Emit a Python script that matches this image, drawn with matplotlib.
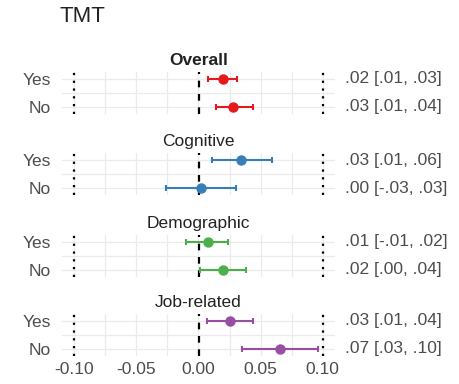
import numpy as np
import matplotlib.pyplot as plt
from matplotlib.transforms import blended_transform_factory

plt.rcParams['font.family'] = ['Liberation Sans', 'DejaVu Sans']

# ------------------------------------------------------------
# Data
# ------------------------------------------------------------
panels = ['Overall', 'Cognitive', 'Demographic', 'Job-related']
rows = ['Yes', 'No']
est = [[0.020, 0.028], [0.034, 0.002], [0.0075, 0.020], [0.025, 0.066]]
lo = [[0.008, 0.014], [0.0105, -0.026], [-0.010, 0.001], [0.007, 0.035]]
hi = [[0.031, 0.044], [0.059, 0.0305], [0.024, 0.038], [0.044, 0.096]]
labels = [['.02 [.01, .03]', '.03 [.01, .04]'],
          ['.03 [.01, .06]', '.00 [-.03, .03]'],
          ['.01 [-.01, .02]', '.02 [.00, .04]'],
          ['.03 [.01, .04]', '.07 [.03, .10]']]
colors = ['#E41A1C', '#377EB8', '#4DAF4A', '#984EA3']
xticks = [-0.10, -0.05, 0.00, 0.05, 0.10]

# ------------------------------------------------------------
# Layout (pixel geometry of the 459x384 canvas)
# ------------------------------------------------------------
W, H = 459, 384
fig = plt.figure(figsize=(W / 100, H / 100), dpi=100)
centers = [93, 174, 255.5, 335]   # vertical centre of each panel (px from top)
half = 21
left_px, right_px = 62, 335
grey = '#4D4D4D'
fs = 12.5

fig.text(60 / W, 1 - 17 / H, 'TMT', fontsize=16, color='#222222', va='center', ha='left')

for i, name in enumerate(panels):
    c = centers[i]
    ax = fig.add_axes([left_px / W, (H - c - half) / H,
                       (right_px - left_px) / W, 2 * half / H])
    ax.set_xlim(-0.11, 0.11)
    ax.set_ylim(-0.25, 1.25)
    ypos = np.array([1, 0])

    # grid
    for gx in np.arange(-0.10, 0.101, 0.025):
        ax.axvline(gx, color='#EBEBEB', lw=0.9, zorder=0)
    for gy in [0, 0.5, 1]:
        ax.axhline(gy, color='#EBEBEB', lw=0.9, zorder=0)

    ax.axvline(-0.10, color='black', ls=(0, (1, 2.5)), lw=1.6, zorder=1)
    ax.axvline(0.10, color='black', ls=(0, (1, 2.5)), lw=1.6, zorder=1)
    ax.axvline(0.0, color='black', ls=(0, (3, 3)), lw=1.6, zorder=1)

    e = np.array(est[i])
    ax.errorbar(e, ypos, xerr=[e - np.array(lo[i]), np.array(hi[i]) - e],
                fmt='o', color=colors[i], ms=6.5, lw=1.5, capsize=2.5,
                capthick=1.5, zorder=3)

    ax.set_yticks(ypos)
    ax.set_yticklabels(rows, fontsize=fs, color=grey)
    ax.tick_params(axis='both', length=0, pad=8)
    for s in ax.spines.values():
        s.set_visible(False)
    ax.set_xticks(xticks)
    if i == len(panels) - 1:
        ax.set_xticklabels(['%.2f' % t for t in xticks], fontsize=fs, color=grey)
        ax.tick_params(axis='x', pad=4)
    else:
        ax.set_xticklabels([])

    ax.set_title(name, fontsize=fs, color='#222222',
                 fontweight='bold' if i == 0 else 'normal', pad=5)

    tr = blended_transform_factory(fig.transFigure, ax.transData)
    for j, y in enumerate(ypos):
        ax.text(345 / W, y, labels[i][j], transform=tr, ha='left', va='center',
                fontsize=fs, color=grey)

fig.savefig('out.png', dpi=100)
